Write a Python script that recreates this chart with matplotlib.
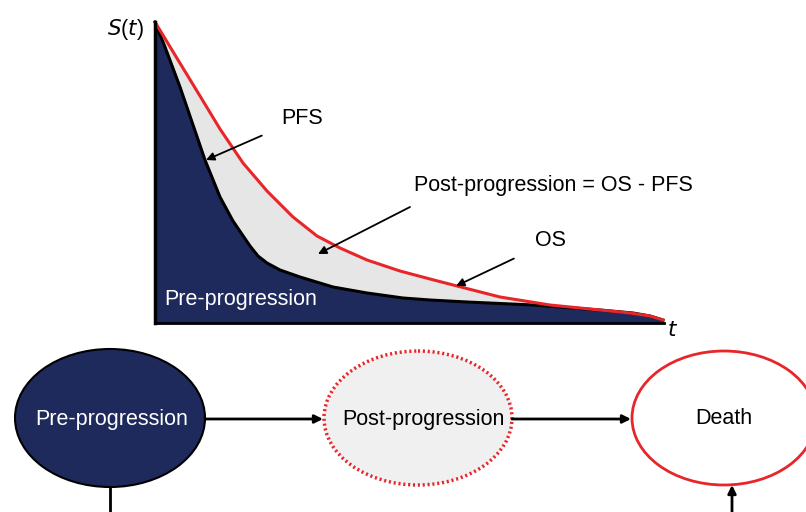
import numpy as np
import matplotlib.pyplot as plt
from matplotlib.patches import Ellipse

plt.rcParams['font.family'] = ['Liberation Sans', 'DejaVu Sans']

# curves (pixel coords, y grows downward)
pfs_x = [155, 165, 180, 192, 205, 220, 233, 250, 258, 267, 280, 300, 333, 367, 403, 430, 467, 533, 600, 633, 650, 663]
pfs_y = [22, 47, 87, 122, 160, 197, 221, 246, 256, 263, 270, 277, 287, 293, 298, 300, 302, 305, 310, 313, 316, 320]
os_x = [155, 175, 200, 220, 243, 267, 293, 317, 340, 367, 400, 430, 457, 500, 550, 600, 630, 650, 663]
os_y = [22, 55, 96, 129, 163, 191, 217, 236, 248, 260, 271, 279, 286, 297, 305, 310, 313, 316, 320]
states = ['Pre-progression', 'Post-progression', 'Death']
state_x = [110, 418, 724]

navy = '#1e2a5c'
red = '#e8262a'
fs = 15.5

fig = plt.figure(figsize=(8.06, 5.12), dpi=100)
ax = fig.add_axes([0, 0, 1, 1])
ax.set_xlim(0, 806)
ax.set_ylim(512, 0)
ax.axis('off')

base = 323
ax.fill_between(os_x, os_y, base, color='#e6e6e6', zorder=1)
ax.fill_between(pfs_x, pfs_y, base, color=navy, zorder=2)
ax.plot(os_x, os_y, color=red, lw=2.2, zorder=4, solid_joinstyle='round')
ax.plot(pfs_x, pfs_y, color='black', lw=2.2, zorder=3, solid_joinstyle='round')
ax.plot([155, 155], [22, base], color='black', lw=2.5, zorder=5)
ax.plot([155, 664], [base, base], color='black', lw=2, zorder=5)

ax.text(125, 30, r'$S$($t$)', fontsize=fs, ha='center', va='center')
ax.text(673, 331, r'$t$', fontsize=fs, ha='center', va='center')
ax.text(241, 299, 'Pre-progression', color='white', fontsize=fs, ha='center', va='center', zorder=6)

arw = dict(arrowstyle='-|>', color='black', lw=1.3, mutation_scale=12)
ax.annotate('PFS', xy=(206, 160), xytext=(302, 118), fontsize=fs, ha='center', va='center',
            arrowprops=dict(arw, shrinkA=13, shrinkB=0), zorder=7)
ax.annotate('', xy=(318, 254), xytext=(410, 207), arrowprops=dict(arw, shrinkA=0, shrinkB=0), zorder=7)
ax.text(553, 186, 'Post-progression = OS - PFS', fontsize=fs, ha='center', va='center')
ax.annotate('OS', xy=(456, 286), xytext=(551, 241), fontsize=fs, ha='center', va='center',
            arrowprops=dict(arw, shrinkA=15, shrinkB=0), zorder=7)

# state diagram
ax.add_patch(Ellipse((state_x[0], 418), 190, 138, facecolor=navy, edgecolor='black', lw=1.5))
ax.add_patch(Ellipse((state_x[1], 418), 188, 134, facecolor='#f0f0f0', edgecolor=red, lw=2.5,
                     linestyle=(0, (0.6, 0.8))))
ax.add_patch(Ellipse((state_x[2], 418), 184, 134, facecolor='white', edgecolor=red, lw=2))
ax.text(state_x[0] + 2, 419, states[0], color='white', fontsize=fs, ha='center', va='center')
ax.text(state_x[1] + 5, 419, states[1], fontsize=fs, ha='center', va='center')
ax.text(state_x[2], 419, states[2], fontsize=fs, ha='center', va='center')

ax.annotate('', xy=(323, 419), xytext=(205, 419), arrowprops=dict(arw, lw=2, shrinkA=0, shrinkB=0))
ax.annotate('', xy=(631, 419), xytext=(512, 419), arrowprops=dict(arw, lw=2, shrinkA=0, shrinkB=0))
ax.plot([110, 110], [487, 512], color='black', lw=2)
ax.annotate('', xy=(732, 485), xytext=(732, 512), arrowprops=dict(arw, lw=2, shrinkA=0, shrinkB=0))

fig.savefig('out.png', dpi=100)
